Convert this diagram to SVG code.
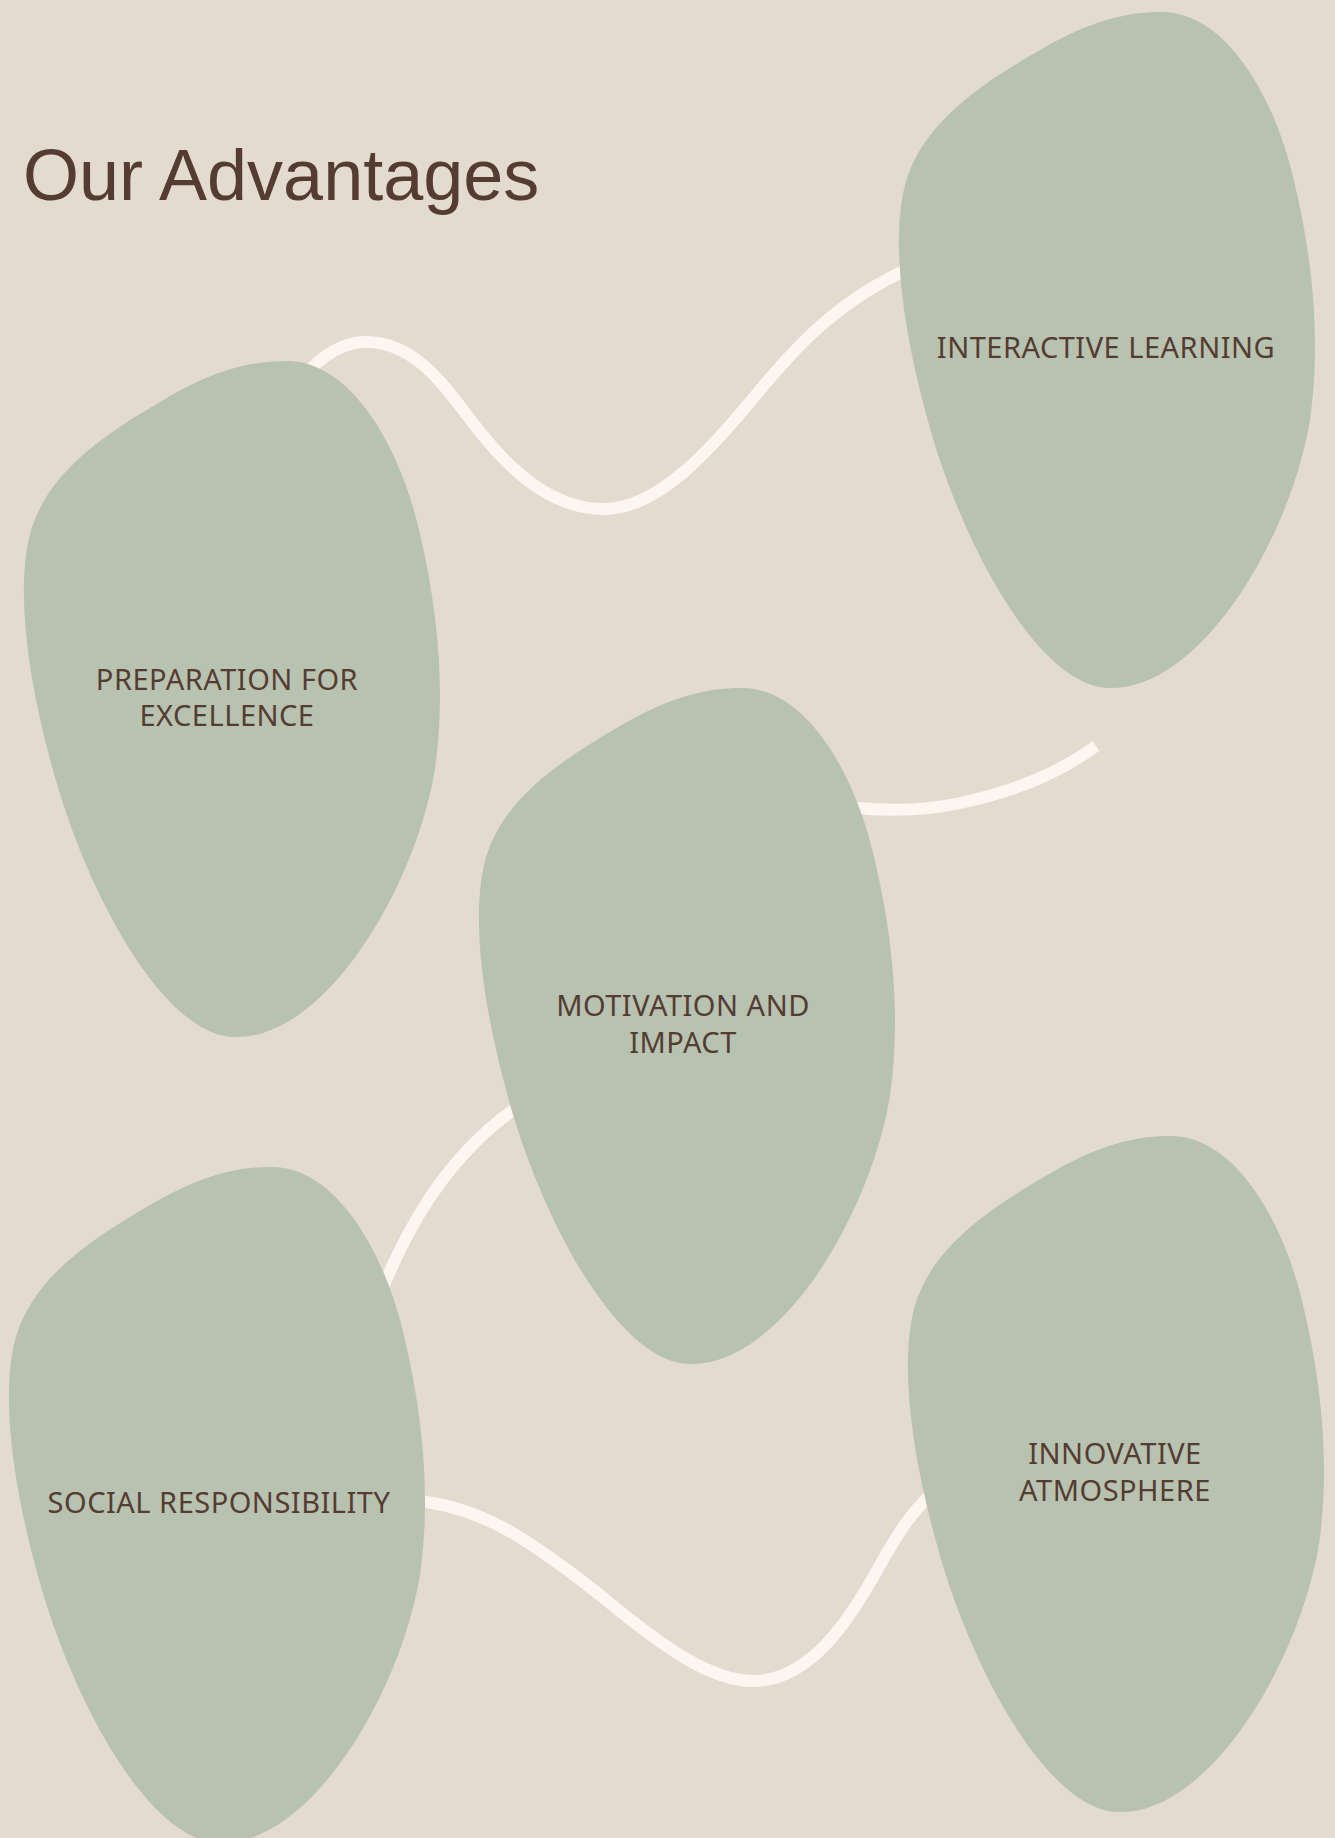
<svg xmlns="http://www.w3.org/2000/svg" xmlns:xlink="http://www.w3.org/1999/xlink" width="1335" height="1838" viewBox="0 0 1335 1838">
<style>
.bg{fill:#e3dad0}
.blob{fill:#b8c2b0}
.conn{fill:none;stroke:#fdf5ef;stroke-width:12;stroke-linecap:butt}
.lbl{font-family:"Noto Sans","Open Sans","DejaVu Sans",sans-serif;font-size:29px;fill:#553c32;text-anchor:middle;letter-spacing:0.5px}
.title{font-family:"Liberation Sans",Arial,sans-serif;font-size:72px;fill:#553c32}
</style>
<defs>
<path id="blobShape" d="M1162,12 C1225,12 1275,95 1295,185 C1315,270 1320,350 1310,420 C1290,540 1200,690 1110,688 C1040,688 960,545 925,410 C905,335 890,245 905,185 C922,123 980,85 1040,50 C1090,21 1125,12 1162,12 Z"/>
</defs>
<rect class="bg" x="0" y="0" width="1335" height="1838"/>
<text class="title" x="23" y="200">Our Advantages</text>
<g id="connectors">
<path class="conn" d="M300,380 C325,352 345,342 366,342 C420,342 450,395 480,432 C520,482 560,509 604,509 C660,509 715,445 760,390 C800,342 840,300 910,268"/>
<path class="conn" d="M820,803 C870,812 920,812 960,803 C1020,790 1060,772 1096,746"/>
<path class="conn" d="M370,1320 C400,1240 440,1160 520,1105"/>
<path class="conn" d="M410,1500 C480,1505 530,1540 600,1595 C660,1645 710,1681 753,1681 C810,1681 850,1620 880,1565 C900,1530 910,1515 930,1495"/>
</g>
<g id="node-interactive-learning">
<use xlink:href="#blobShape" class="blob"/>
<text class="lbl" x="1106" y="358">INTERACTIVE LEARNING</text>
</g>
<g id="node-preparation">
<use xlink:href="#blobShape" class="blob" transform="translate(-875,349)"/>
<text class="lbl" x="227" y="690">PREPARATION FOR</text>
<text class="lbl" x="227" y="726">EXCELLENCE</text>
</g>
<g id="node-motivation">
<use xlink:href="#blobShape" class="blob" transform="translate(-420,676)"/>
<text class="lbl" x="683" y="1016">MOTIVATION AND</text>
<text class="lbl" x="683" y="1053">IMPACT</text>
</g>
<g id="node-social">
<use xlink:href="#blobShape" class="blob" transform="translate(-890,1155)"/>
<text class="lbl" x="219" y="1513">SOCIAL RESPONSIBILITY</text>
</g>
<g id="node-innovative">
<use xlink:href="#blobShape" class="blob" transform="translate(9,1124)"/>
<text class="lbl" x="1115" y="1464">INNOVATIVE</text>
<text class="lbl" x="1115" y="1501">ATMOSPHERE</text>
</g>
</svg>
